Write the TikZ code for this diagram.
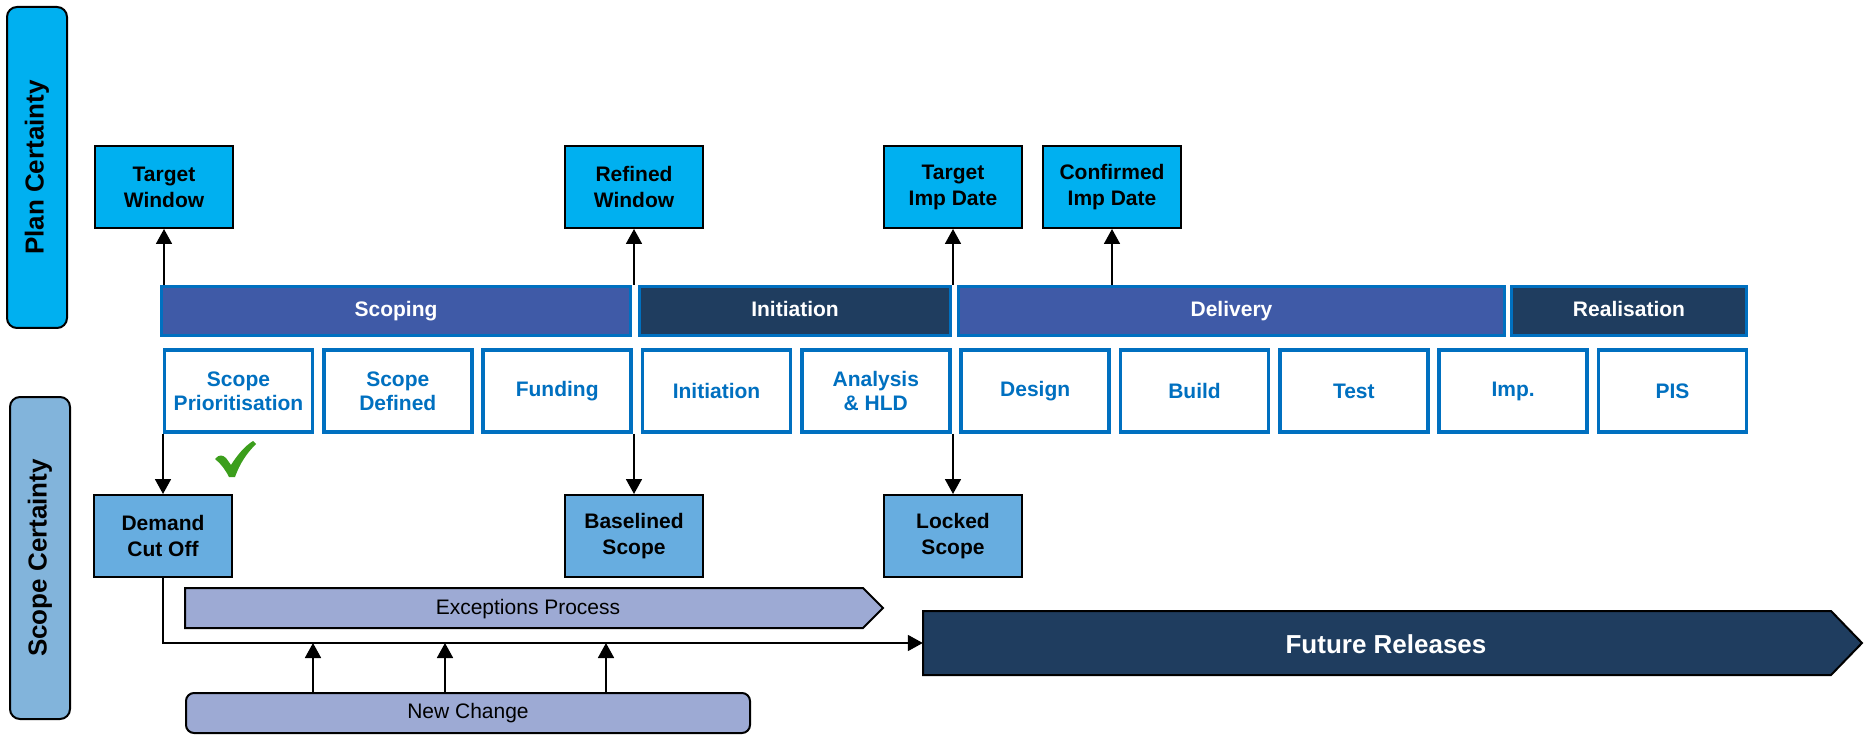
\documentclass[tikz,border=0pt]{standalone}
\usepackage{fontspec}
\setmainfont{Liberation Sans}
\usetikzlibrary{arrows.meta}
\definecolor{cyanbox}{HTML}{00B0F0}
\definecolor{scopecert}{HTML}{82B4DB}
\definecolor{scopebox}{HTML}{67ADE0}
\definecolor{lilac}{HTML}{9DAAD4}
\definecolor{midblue}{HTML}{3F5AA7}
\definecolor{navy}{HTML}{1F3D5F}
\definecolor{bordblue}{HTML}{0070C0}
\definecolor{checkgreen}{HTML}{3C9E1C}
\begin{document}
\begin{tikzpicture}[x=1pt,y=-1pt,
  cert/.style={draw=black, line width=2pt, rounded corners=10pt, rotate=90,
    minimum height=60pt, inner sep=0pt, font=\fontsize{26}{30}\selectfont\bfseries},
  mile/.style={draw=black, line width=2pt, minimum width=138pt, minimum height=82pt,
    align=center, inner sep=0pt, font=\fontsize{21}{26}\selectfont\bfseries},
  phase/.style={draw=bordblue, line width=3pt, minimum height=49pt, inner sep=0pt,
    text height=15pt, text depth=4pt,
    text=white, font=\fontsize{21}{24}\selectfont\bfseries},
  stepbox/.style={draw=bordblue, fill=white, line width=3.5pt, minimum width=148pt,
    minimum height=82pt, align=center, inner sep=0pt, text=bordblue,
    font=\fontsize{21}{24}\selectfont\bfseries},
  arr/.style={line width=1.8pt, -{Triangle[length=15pt,width=16pt]}},
  lbl/.style={font=\fontsize{21}{24}\selectfont, inner sep=0pt}
]
\useasboundingbox (0,0) rectangle (1864,735);

% certainty labels
\node[cert, fill=cyanbox, minimum width=321pt] (pc) at (37,167.5) {Plan Certainty};
\node[cert, fill=scopecert, minimum width=322pt] (sc) at (40,558) {Scope Certainty};

% milestones (plan)
\node[mile, fill=cyanbox] (tw) at (164,187) {Target\\Window};
\node[mile, fill=cyanbox] (rw) at (634,187) {Refined\\Window};
\node[mile, fill=cyanbox] (tid) at (953,187) {Target\\Imp Date};
\node[mile, fill=cyanbox] (cid) at (1112,187) {Confirmed\\Imp Date};

% phase bars
\node[phase, fill=midblue, minimum width=469pt] (scoping) at (396,311) {Scoping};
\node[phase, fill=navy, minimum width=311pt] (ini) at (795,311) {Initiation};
\node[phase, fill=midblue, minimum width=546pt] (del) at (1231.5,311) {Delivery};
\node[phase, fill=navy, minimum width=235pt] (real) at (1629,311) {Realisation};

% step boxes
\node[stepbox] (s1) at (238.5,391) {Scope\\Prioritisation};
\node[stepbox] (s2) at (397.8,391) {Scope\\Defined};
\node[stepbox] (s3) at (557.2,391) {Funding};
\node[stepbox] (s4) at (716.5,391) {Initiation};
\node[stepbox] (s5) at (875.8,391) {Analysis\\\& HLD};
\node[stepbox] (s6) at (1035.2,391) {Design};
\node[stepbox] (s7) at (1194.5,391) {Build};
\node[stepbox] (s8) at (1353.8,391) {Test};
\node[stepbox] (s9) at (1513.2,391) {Imp.};
\node[stepbox] (s10) at (1672.5,391) {PIS};

% milestones (scope)
\node[mile, fill=scopebox] (dco) at (163,536) {Demand\\Cut Off};
\node[mile, fill=scopebox] (bs) at (634,536) {Baselined\\Scope};
\node[mile, fill=scopebox] (ls) at (953,536) {Locked\\Scope};

% check mark
\fill[checkgreen] (215,459) .. controls (219,454) and (223,455) .. (226,458)
  -- (231,465) .. controls (238,454) and (245,446) .. (253,441)
  -- (256,444) .. controls (247,453) and (240,463) .. (235,477)
  -- (229,477) .. controls (225,469) and (220,463) .. cycle;

% exceptions process
\draw[line width=2pt, fill=lilac] (185,588) -- (863,588) -- (883,608) -- (863,628) -- (185,628) -- cycle;
\node[lbl] (exc) at (528,609) {Exceptions Process};

% future releases
\draw[line width=2pt, fill=navy] (923,611) -- (1831,611) -- (1862,643) -- (1831,675) -- (923,675) -- cycle;
\node[minimum width=908pt, minimum height=64pt, inner sep=0pt] (fr) at (1377,643) {};
\node[text=white, font=\fontsize{26}{30}\selectfont\bfseries] (frt) at (1386,644) {Future Releases};

% new change
\node[draw=black, line width=2pt, fill=lilac, rounded corners=8pt, minimum width=564pt,
  minimum height=40pt, inner sep=0pt, font=\fontsize{21}{24}\selectfont] (nc) at (468,713) {New Change};

% connectors
\draw[arr] (tw.south |- scoping.north) -- (tw.south);
\draw[arr] (rw.south |- scoping.north) -- (rw.south);
\draw[arr] (tid.south |- ini.north) -- (tid.south);
\draw[arr] (cid.south |- del.north) -- (cid.south);
\draw[arr] (dco.north |- s1.south) -- (dco.north);
\draw[arr] (bs.north |- s3.south) -- (bs.north);
\draw[arr] (ls.north |- s5.south) -- (ls.north);
\draw[arr] (dco.south) -- (dco.south |- fr.west) -- (fr.west);
\coordinate (j1) at (313,643);
\coordinate (j2) at (445,643);
\coordinate (j3) at (606,643);
\draw[arr] (nc.north -| j1) -- (j1);
\draw[arr] (nc.north -| j2) -- (j2);
\draw[arr] (nc.north -| j3) -- (j3);
\end{tikzpicture}
\end{document}
